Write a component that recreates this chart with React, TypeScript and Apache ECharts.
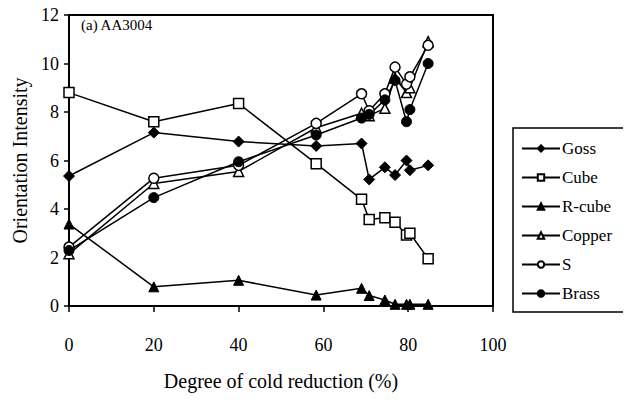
import React, { useEffect, useRef } from "react";
import * as echarts from "echarts";

const reduction = [0, 20, 40, 58.3, 69, 70.8, 74.5, 76.9, 79.6, 80.4, 84.7];
const goss = [5.36, 7.15, 6.78, 6.6, 6.7, 5.22, 5.72, 5.4, 6.0, 5.6, 5.8];
const cube = [8.8, 7.6, 8.35, 5.87, 4.4, 3.57, 3.64, 3.45, 2.93, 3.0, 1.95];
const rcube = [3.38, 0.79, 1.06, 0.45, 0.73, 0.43, 0.25, 0.07, 0.07, 0.07, 0.07];
const copper = [2.15, 5.05, 5.55, 7.35, 7.95, 7.85, 8.15, 9.4, 8.8, 9.0, 10.9];
const sComp = [2.43, 5.27, 5.8, 7.53, 8.75, 8.05, 8.75, 9.85, 9.15, 9.45, 10.75];
const brass = [2.29, 4.47, 5.95, 7.05, 7.75, 7.9, 8.5, 9.3, 7.6, 8.1, 10.0];

const xTicks = [0, 20, 40, 60, 80, 100];
const yTicks = [0, 2, 4, 6, 8, 10, 12];

const FONT = "'Liberation Serif', 'Times New Roman', serif";

type Spec = { name: string; values: number[]; symbol: string; size: number; filled: boolean };

const specs: Spec[] = [
  { name: "Goss", values: goss, symbol: "diamond", size: 11, filled: true },
  { name: "Cube", values: cube, symbol: "rect", size: 10, filled: false },
  { name: "R-cube", values: rcube, symbol: "triangle", size: 10, filled: true },
  { name: "Copper", values: copper, symbol: "triangle", size: 10, filled: false },
  { name: "S", values: sComp, symbol: "circle", size: 10, filled: false },
  { name: "Brass", values: brass, symbol: "circle", size: 10, filled: true },
];

export default function App() {
  const ref = useRef<HTMLDivElement>(null);
  useEffect(() => {
    if (!ref.current) return;
    const chart = echarts.init(ref.current, null, { renderer: "svg" });
    chart.setOption({
      animation: false,
      backgroundColor: "#fff",
      textStyle: { fontFamily: FONT, color: "#000" },
      grid: {
        left: 69,
        right: 138,
        top: 15,
        bottom: 98,
        show: true,
        borderColor: "#000",
        borderWidth: 2,
        backgroundColor: "transparent",
      },
      xAxis: {
        type: "value",
        min: xTicks[0],
        max: xTicks[xTicks.length - 1],
        interval: 20,
        name: "Degree of cold reduction (%)",
        nameLocation: "middle",
        nameGap: 65,
        nameTextStyle: { fontFamily: FONT, fontSize: 20, color: "#000" },
        axisLine: { show: true, lineStyle: { color: "#000", width: 2 } },
        axisTick: { show: true, inside: false, length: 6, lineStyle: { color: "#000", width: 1.5 } },
        axisLabel: { fontFamily: FONT, fontSize: 18, color: "#000", margin: 30 },
        splitLine: { show: false },
      },
      yAxis: {
        type: "value",
        min: yTicks[0],
        max: yTicks[yTicks.length - 1],
        interval: 2,
        name: "Orientation Intensity",
        nameLocation: "middle",
        nameGap: 38,
        nameTextStyle: { fontFamily: FONT, fontSize: 20, color: "#000" },
        axisLine: { show: true, lineStyle: { color: "#000", width: 2 } },
        axisTick: { show: true, inside: false, length: 5, lineStyle: { color: "#000", width: 1.5 } },
        axisLabel: { fontFamily: FONT, fontSize: 18, color: "#000", margin: 10 },
        splitLine: { show: false },
      },
      legend: {
        orient: "vertical",
        left: 513,
        top: 128,
        width: 108,
        padding: [12, 12, 10, 8],
        itemGap: 12,
        itemWidth: 38,
        itemHeight: 8,
        borderColor: "#000",
        borderWidth: 1.5,
        backgroundColor: "#fff",
        textStyle: { fontFamily: FONT, fontSize: 17, color: "#000", padding: [0, 0, 0, -3] },
        data: specs.map((s) => s.name),
      },
      graphic: [
        {
          type: "text",
          left: 81,
          top: 17,
          style: { text: "(a) AA3004", fontFamily: FONT, fontSize: 15, fill: "#000" },
        },
      ],
      series: specs.map((s) => ({
        name: s.name,
        type: "line",
        data: reduction.map((x, i) => [x, s.values[i]]),
        symbol: s.symbol,
        symbolSize: s.size,
        showSymbol: true,
        lineStyle: { color: "#000", width: 1.5 },
        itemStyle: s.filled
          ? { color: "#000", borderColor: "#000", borderWidth: 1 }
          : { color: "#fff", borderColor: "#000", borderWidth: 1.5 },
        emphasis: { disabled: true },
      })),
    });
    return () => chart.dispose();
  }, []);
  return <div ref={ref} style={{ width: 631, height: 404, margin: -8 }} />;
}
